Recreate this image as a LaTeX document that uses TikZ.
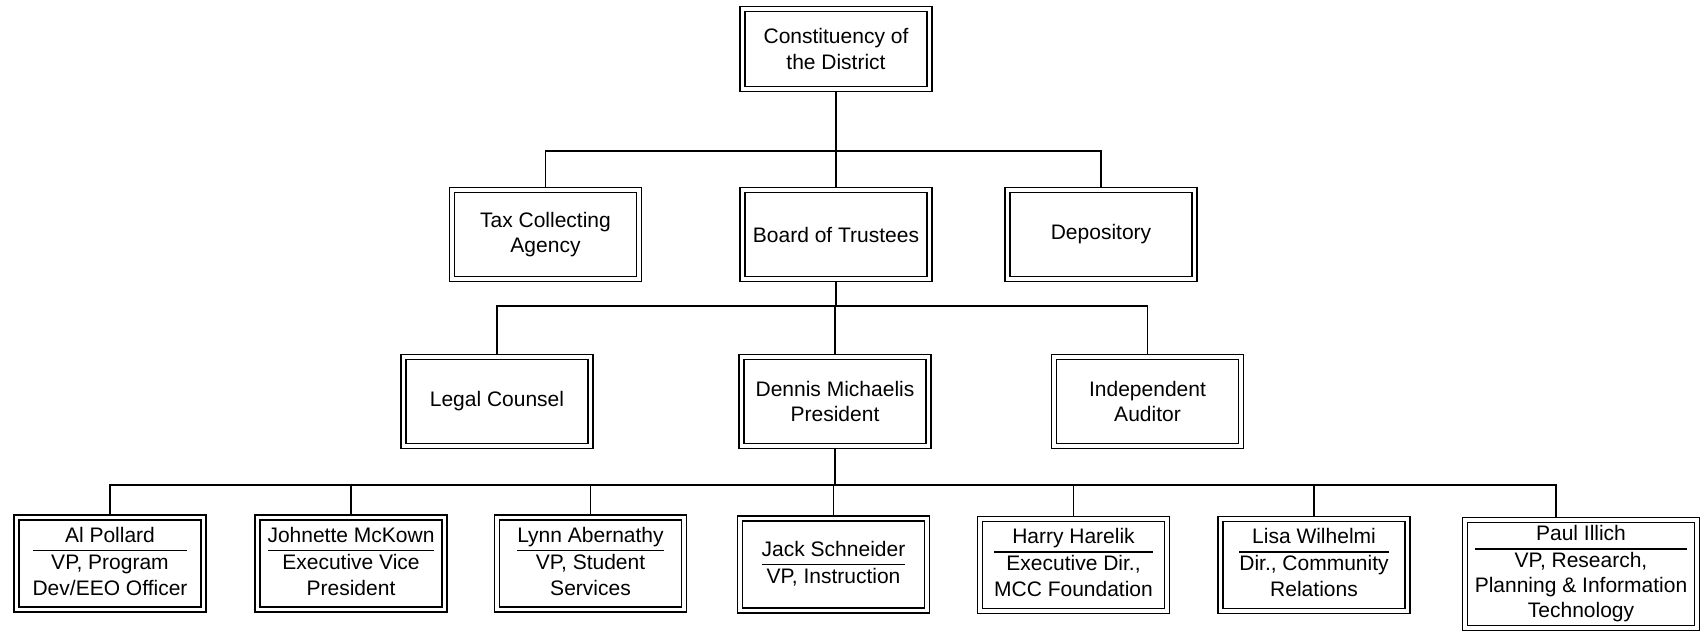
\documentclass[tikz,border=0pt]{standalone}
\usepackage{fontspec}
\setmainfont{Liberation Sans}
\setlength{\arrayrulewidth}{0.7pt}
\newcommand\person[2]{\begin{tabular}{@{}c@{}}#1\\\hline #2\end{tabular}}
\begin{document}
\begin{tikzpicture}[x=0.5pt,y=-0.5pt,
  box/.style={draw, line width=0.72pt, double, double distance=1.75pt,
    minimum width=93.5pt, minimum height=44.5pt, inner sep=1pt,
    outer sep=1.6pt, align=center, font=\fontsize{10.5}{12.6}\selectfont},
  lowbox/.style={box, minimum height=46pt, font=\fontsize{10.5}{13}\selectfont},
  conn/.style={line width=0.72pt}]
\useasboundingbox[fill=white] (0,0) rectangle (1701,631);

% top
\node[box, minimum height=40pt] (const) at (836,49) {Constituency of\\the District};

% row 1
\node[box] (tax)   at (545.5,234.5) {Tax Collecting\\Agency};
\node[box] (board) at (836,234.5)   {Board of Trustees};
\node[box] (dep)   at (1101,234.5)  {Depository};

% row 2
\node[box] (legal) at (497,401.5)    {Legal Counsel};
\node[box] (pres)  at (835,401.5)    {Dennis Michaelis\\President};
\node[box] (aud)   at (1147.5,401.5) {Independent\\Auditor};

% row 3
\node[lowbox] (al)    at (110,563.5)    {\person{Al Pollard}{VP, Program\\Dev/EEO Officer}};
\node[lowbox] (joh)   at (351,563.5)    {\person{Johnette McKown}{Executive Vice\\President}};
\node[lowbox] (lynn)  at (590.5,563.5)  {\person{Lynn Abernathy}{VP, Student\\Services}};
\node[lowbox] (jack)  at (833.5,564.5)  {\person{Jack Schneider}{VP, Instruction}};
\node[lowbox] (harry) at (1073.5,565)   {\person{Harry Harelik}{Executive Dir.,\\MCC Foundation}};
\node[lowbox] (lisa)  at (1314,565)     {\person{Lisa Wilhelmi}{Dir., Community\\Relations}};
\node[lowbox, minimum width=116pt, minimum height=54pt, inner ysep=0.3pt,
  font=\fontsize{10.5}{12.6}\selectfont] (paul) at (1581,574)
  {\person{Paul Illich}{VP, Research,\\Planning \& Information\\Technology}};

% bus coordinates
\coordinate (b1) at (836,151);
\coordinate (b2) at (835,306);
\coordinate (b3) at (835,485);
\coordinate (px) at (1556,0);

% connectors level 1
\draw[conn] (const.south) -- (b1);
\draw[conn] (tax.north) |- (b1) -| (dep.north);
\draw[conn] (b1) -- (board.north);

% connectors level 2
\draw[conn] (board.south) |- (b2);
\draw[conn] (legal.north) |- (b2) -| (aud.north);
\draw[conn] (b2) -- (pres.north);

% connectors level 3
\draw[conn] (pres.south) -- (b3);
\draw[conn] (al.north) |- (b3) -| (paul.north -| px);
\draw[conn] (b3) -| (joh.north);
\draw[conn] (b3) -| (lynn.north);
\draw[conn] (b3) -| (jack.north);
\draw[conn] (b3) -| (harry.north);
\draw[conn] (b3) -| (lisa.north);
\end{tikzpicture}
\end{document}
